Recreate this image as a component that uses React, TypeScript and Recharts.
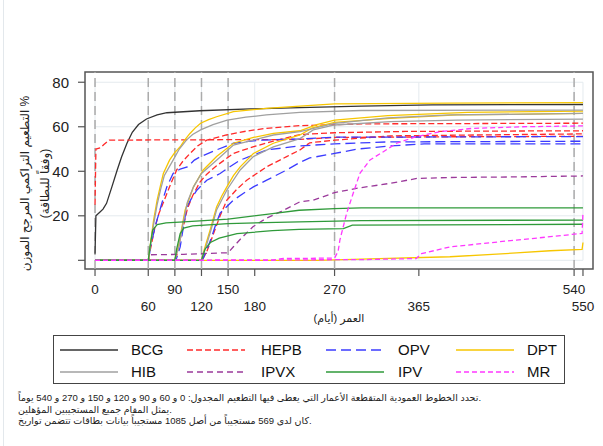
import React from "react";
import { LineChart, Line, XAxis, YAxis, ReferenceLine, ReferenceArea, Label } from "recharts";

type Pt = [number, number];

// axis setup
const xTicks = [0, 60, 90, 120, 150, 180, 270, 365, 540, 550];
const scheduleDays = [0, 60, 90, 120, 150, 270, 540];
const yTicks = [0, 20, 40, 60, 80];
const xDomain: [number, number] = [-11.3, 561.3];
const yDomain: [number, number] = [-3.9, 84.6];

// cumulative coverage curves, [day, %]
const bcg: Pt[] = [[0, 3], [1, 20], [5, 21.5], [9, 23], [13, 25.6], [19, 33], [25, 40.6], [30, 46.5], [36, 52.6], [42, 57.5], [49, 61], [58, 63.5], [70, 65.3], [81, 66.3], [118, 67.2], [175, 68], [231, 68.6], [300, 69.3], [380, 69.8], [550, 70]];

const hepb0: Pt[] = [[0, 25], [1, 50], [6, 50.5], [10, 52], [16, 54], [231, 54.3], [270, 55.2], [400, 55.5], [550, 55.7]];
const hepb1: Pt[] = [[0, 0], [60, 0], [61, 2], [63, 6], [67, 14], [72, 21], [77, 26], [81, 30], [86, 35], [92, 40.6], [99, 44.5], [107, 48], [116, 51.5], [126, 54], [148, 56.3], [170, 58], [193, 59.3], [231, 60.5], [300, 61.3], [550, 61.6]];
const hepb2: Pt[] = [[0, 0], [90, 0], [92, 2], [95, 8], [100, 16], [104, 23], [110, 29], [118, 35], [126, 38.7], [137, 42.5], [156, 48], [178, 51], [201, 53.5], [231, 56.5], [270, 57.3], [350, 57.9], [550, 58.2]];
const hepb3: Pt[] = [[0, 0], [120, 0], [122, 1], [126, 4], [130, 8], [133.6, 12], [141, 20], [148.6, 27], [160, 32], [171, 36], [193.5, 42], [216, 46.6], [231, 49.6], [242, 52.8], [270, 54], [333, 55.9], [550, 56.8]];

const opv1: Pt[] = [[0, 0], [60, 0], [61, 1], [62.4, 6], [66, 12], [69, 17], [72, 21], [77, 28], [81, 33], [88, 39], [96, 41], [104, 42], [112, 45], [119, 46.6], [137, 49.6], [156, 52.6], [186, 54], [231, 54.5], [270, 55.3], [550, 55.6]];
const opv2: Pt[] = [[0, 0], [90, 0], [92, 1], [96, 6], [100, 16], [103.5, 24], [109, 28], [115, 31.6], [126, 36], [141, 39], [152, 42], [163.5, 45], [193.5, 49.6], [231, 51.4], [270, 52.3], [330, 53.2], [550, 53.5]];
const opv3: Pt[] = [[0, 0], [120, 0], [122, 1], [126, 4.6], [131, 10], [136, 16], [141, 21.2], [156, 27], [167, 30], [178.5, 33], [193.5, 36], [216, 40.6], [231, 44], [242, 46], [270, 48], [296, 50], [333, 51.4], [371, 52.3], [550, 52.3]];

const dpt1: Pt[] = [[0, 0], [60, 0], [61, 3], [63, 9], [66, 18], [70, 27], [74, 34], [77, 39], [84, 45], [90, 48.5], [96, 51], [101, 54], [107, 57], [113, 59.5], [119, 61.6], [128, 63.2], [137, 64.5], [156, 66.8], [193, 68.3], [231, 69.3], [270, 70.3], [400, 70.6], [550, 70.8]];
const dpt2: Pt[] = [[0, 0], [90, 0], [91, 2], [94, 6], [98, 15], [101.6, 22.6], [111, 33], [122, 40.6], [137, 46.6], [156, 52.6], [178.5, 55.2], [201, 57], [231, 58.2], [250, 61], [270, 63], [330, 65], [420, 66.5], [550, 67]];
const dpt3: Pt[] = [[0, 0], [120, 0], [121, 2], [124, 6], [130, 14], [137, 24], [143, 29], [148.6, 33], [156, 38], [163.6, 42], [178.5, 48], [201, 52.6], [231, 56.3], [245, 59.5], [270, 62], [333, 63.8], [408, 65.3], [550, 66]];
const dpt4: Pt[] = [[0, 0], [250, 0], [300, 0.5], [400, 1.6], [475, 3.3], [513, 4.3], [549, 4.9], [550, 8]];

const hib1: Pt[] = [[0, 0], [60, 0], [61, 3], [63, 8], [66, 16], [70, 25], [74, 32], [78, 38], [88, 45], [95, 50], [103, 54], [110, 56.5], [119, 58.6], [133, 61], [149, 63], [170, 64.3], [193, 65.3], [231, 66.5], [300, 67.3], [550, 67.5]];
const hib2: Pt[] = [[0, 0], [90, 0], [91, 2], [94, 5], [99, 16], [104, 26], [111, 33], [120, 39], [137, 45], [156, 51.8], [178, 54], [201, 56.3], [231, 57.8], [270, 61.5], [330, 64], [400, 65.3], [550, 66]];
const hib3: Pt[] = [[0, 0], [120, 0], [121, 2], [125, 6], [131, 14], [137, 22.6], [148.6, 31.6], [163.6, 40.6], [178.5, 46.6], [201, 51], [231, 54.7], [246, 58.6], [270, 60.8], [333, 62.3], [408, 63], [550, 63.4]];

const ipvx: Pt[] = [[0, 0], [60, 0], [62, 2.5], [100, 2.7], [140, 3.3], [150, 3.4], [156, 6.1], [165, 10], [178, 15.1], [193, 18.9], [210, 22], [231, 26.3], [246, 27], [270, 30.4], [296, 32.4], [333, 34.6], [363, 36.8], [400, 37.2], [480, 37.5], [550, 37.9]];

const ipv1: Pt[] = [[0, 0], [60, 0], [61, 3], [62, 6], [65, 13.6], [70, 16], [80, 16.8], [100, 17.3], [150, 18.5], [200, 21], [230, 22.5], [270, 23.2], [300, 23.6], [550, 23.6]];
const ipv2: Pt[] = [[0, 0], [90, 0], [92, 5], [96, 12], [100, 14.5], [110, 15.5], [150, 16.5], [230, 17.3], [300, 17.8], [550, 18.1]];
const ipv3: Pt[] = [[0, 0], [120, 0], [124, 5], [130, 8], [140, 10], [160, 12], [200, 13.3], [230, 13.9], [280, 14.2], [290, 15.8], [550, 16.2]];

const mr1: Pt[] = [[0, 0], [200, 0], [210, 0.8], [270, 1], [274, 4], [276, 9.1], [283.6, 21.1], [291, 30.1], [298.6, 39.1], [310, 45.1], [325, 48.8], [340, 52.6], [362, 55.6], [389, 57.8], [426, 59.3], [482, 60], [550, 60.4]];
const mr2: Pt[] = [[0, 0], [300, 0.3], [362, 0.8], [368, 3], [400, 6], [438, 7.6], [475, 9.1], [513, 10.6], [549, 12.1], [550, 21.4]];

const styles: Record<string, { color: string; dash?: string }> = {
  BCG: { color: "#333333" },
  HEPB: { color: "#ff2a2a", dash: "6 3" },
  OPV: { color: "#3b3bff", dash: "10 5" },
  DPT: { color: "#f7c600" },
  HIB: { color: "#a0a0a0" },
  IPVX: { color: "#9b3a9b", dash: "6 4" },
  IPV: { color: "#2f9a3a" },
  MR: { color: "#ff38ff", dash: "5 3" },
};

const series: { vac: string; pts: Pt[] }[] = [
  { vac: "BCG", pts: bcg },
  { vac: "HEPB", pts: hepb0 },
  { vac: "HEPB", pts: hepb1 },
  { vac: "HEPB", pts: hepb2 },
  { vac: "HEPB", pts: hepb3 },
  { vac: "OPV", pts: opv1 },
  { vac: "OPV", pts: opv2 },
  { vac: "OPV", pts: opv3 },
  { vac: "DPT", pts: dpt1 },
  { vac: "DPT", pts: dpt2 },
  { vac: "DPT", pts: dpt3 },
  { vac: "DPT", pts: dpt4 },
  { vac: "HIB", pts: hib1 },
  { vac: "HIB", pts: hib2 },
  { vac: "HIB", pts: hib3 },
  { vac: "IPVX", pts: ipvx },
  { vac: "IPV", pts: ipv1 },
  { vac: "IPV", pts: ipv2 },
  { vac: "IPV", pts: ipv3 },
  { vac: "MR", pts: mr1 },
  { vac: "MR", pts: mr2 },
];

const legendOrder = ["BCG", "HEPB", "OPV", "DPT", "HIB", "IPVX", "IPV", "MR"];
const legendSampleX = [6, 133, 272, 402];
const legendLabelX = [77, 207, 344, 473];

const yTitle1 = "التطعيم التراكمي المرجح الموزن %";
const yTitle2 = "(وفقاً للبطاقة)";
const xTitle = "العمر (أيام)";
const notes = [
  "تحدد الخطوط العمودية المتقطعة الأعمار التي يعطى فيها التطعيم المجدول: 0 و 60 و 90 و 120 و 150 و 270 و 540 يوماً.",
  "يمثل المقام جميع المستجيبين المؤهلين.",
  "كان لدى 569 مستجيباً من أصل 1085 مستجيباً بيانات بطاقات تتضمن تواريخ.",
];

const FONT = "'Liberation Sans', Arial, 'DejaVu Sans', sans-serif";
const rows = (pts: Pt[]) => pts.map(([d, v]) => ({ d, v }));

const XTick = (props: any) => {
  const { x, y, payload } = props;
  const i = xTicks.indexOf(payload.value);
  return (
    <text x={x} y={y + (i % 2 ? 33 : 16)} textAnchor="middle" fontSize={13.5} fill="#222" fontFamily={FONT}>
      {payload.value}
    </text>
  );
};

const YTitle = (props: any) => {
  const vb = props.viewBox || { x: 0, y: 72, width: 85, height: 197 };
  const cy = vb.y + vb.height / 2 + 13;
  const x1 = vb.x + 25;
  const x2 = vb.x + 45;
  return (
    <g fontFamily={FONT} fontSize={12} fill="#222">
      <text x={x1} y={cy} textAnchor="middle" dominantBaseline="central" transform={`rotate(-90 ${x1} ${cy})`}>
        {yTitle1}
      </text>
      <text x={x2} y={cy} textAnchor="middle" dominantBaseline="central" transform={`rotate(-90 ${x2} ${cy})`}>
        {yTitle2}
      </text>
    </g>
  );
};

const XTitle = (props: any) => {
  const vb = props.viewBox || { x: 85, y: 269, width: 508, height: 60 };
  return (
    <text x={vb.x + vb.width / 2} y={vb.y + 53} textAnchor="middle" fontSize={11} fill="#222" fontFamily={FONT} direction="rtl">
      {xTitle}
    </text>
  );
};

export default function App() {
  return (
    <div style={{ position: "absolute", left: 0, top: 0, width: 603, height: 446, background: "#fff", fontFamily: FONT, overflow: "hidden" }}>
      <div style={{ position: "absolute", left: 3, top: 0, width: 1, height: 446, background: "#e3e8ec" }} />
      <LineChart width={603} height={446} margin={{ top: 72, right: 10, bottom: 117, left: 0 }}>
        {yTicks.map((v) => (
          <ReferenceLine key={"gy" + v} segment={[{ x: 0, y: v }, { x: 550, y: v }]} stroke="#e4eaee" strokeWidth={1} />
        ))}
        {xTicks.map((v) => (
          <ReferenceLine key={"gx" + v} segment={[{ x: v, y: 0 }, { x: v, y: 80 }]} stroke="#e4eaee" strokeWidth={1} />
        ))}
        {scheduleDays.map((v) => (
          <ReferenceLine key={"s" + v} x={v} stroke="#ababab" strokeWidth={1.5} strokeDasharray="9 5" />
        ))}
        <XAxis
          type="number"
          dataKey="d"
          domain={xDomain}
          ticks={xTicks}
          interval={0}
          allowDataOverflow
          height={60}
          axisLine={false}
          tickLine={{ stroke: "#555", strokeWidth: 1.2 }}
          tickSize={7}
          tick={<XTick />}
        >
          <Label content={<XTitle />} />
        </XAxis>
        <YAxis
          type="number"
          domain={yDomain}
          ticks={yTicks}
          interval={0}
          allowDataOverflow
          width={85}
          axisLine={false}
          tickLine={{ stroke: "#555", strokeWidth: 1.2 }}
          tickSize={7}
          tickMargin={9}
          tickFormatter={(v: number) => (v === 0 ? "" : String(v))}
          tick={{ fontSize: 15, fill: "#222", fontFamily: FONT }}
        >
          <Label content={<YTitle />} />
        </YAxis>
        {series.map((s, i) => (
          <Line
            key={i}
            data={rows(s.pts)}
            dataKey="v"
            type="linear"
            stroke={styles[s.vac].color}
            strokeDasharray={styles[s.vac].dash}
            strokeWidth={1.3}
            dot={false}
            activeDot={false}
            isAnimationActive={false}
          />
        ))}
        <ReferenceArea x1={xDomain[0]} x2={xDomain[1]} y1={yDomain[0]} y2={yDomain[1]} fill="none" stroke="#555" strokeWidth={1.5} fillOpacity={0} />
      </LineChart>

      <div style={{ position: "absolute", left: 53, top: 335, width: 512, height: 49, border: "1px solid #444", boxSizing: "border-box", background: "#fff" }}>
        {legendOrder.map((vac, i) => {
          const col = i % 4;
          const cy = i < 4 ? 14 : 36;
          const st = styles[vac];
          return (
            <React.Fragment key={vac}>
              <svg style={{ position: "absolute", left: legendSampleX[col], top: cy - 3 }} width={58} height={6}>
                <line x1={0} y1={3} x2={58} y2={3} stroke={st.color} strokeWidth={1.3} strokeDasharray={st.dash} />
              </svg>
              <div style={{ position: "absolute", left: legendLabelX[col], top: cy - 9, fontSize: 15, lineHeight: "18px", color: "#111" }}>{vac}</div>
            </React.Fragment>
          );
        })}
      </div>

      <div style={{ position: "absolute", left: 18, top: 392, fontSize: 9.5, lineHeight: "11.5px", color: "#222", whiteSpace: "nowrap" }}>
        {notes.map((n, i) => (
          <div key={i}>{n}</div>
        ))}
      </div>
    </div>
  );
}
